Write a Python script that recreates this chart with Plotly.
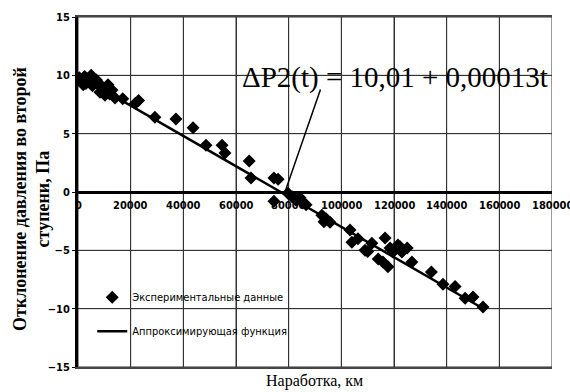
import plotly.graph_objects as go

# Experimental data: operating time (km) and pressure deviation (Pa)
exp_t = [500, 1500, 2000, 2500, 3000, 3500, 4500, 5000, 5500, 6000, 7000, 8000,
         8350, 9100, 10250, 11400, 12000, 12900, 14050, 17000, 21800, 23000,
         29200, 37200, 43700, 48600, 54700, 55800, 65000, 65700, 74400, 76000,
         74400, 79700, 81300, 82800, 84300, 85400, 86600, 92600, 93400, 94200,
         95700, 103300, 104000, 106300, 109000, 110000, 111600, 114000, 115800,
         117700, 116600, 118500, 119600, 121500, 122300, 123000, 125000, 126800,
         134200, 138600, 143200, 147000, 150000, 153800]
exp_v = [9.8, 9.6, 9.2, 9.9, 9.3, 9.7, 9.4, 10.0, 9.1, 9.5, 9.6, 9.3,
         8.55, 8.9, 8.3, 9.2, 8.4, 8.75, 8.05, 8.0, 7.6, 7.85,
         6.4, 6.25, 5.5, 4.0, 4.0, 3.35, 2.65, 1.2, 1.2, 1.1,
         -0.8, -0.1, -0.4, -0.7, -0.5, -0.95, -1.1, -2.0, -2.55, -2.3,
         -2.6, -3.25, -4.3, -4.0, -5.0, -5.1, -4.4, -5.75, -6.0,
         -6.4, -3.95, -4.8, -5.15, -4.55, -4.7, -5.15, -4.8, -6.0,
         -6.85, -7.9, -8.1, -9.1, -9.0, -9.85]

# Approximating function endpoints
fit_t = [0, 154000]
fit_v = [10.01, -10.01]

x_ticks = [0, 20000, 40000, 60000, 80000, 100000, 120000, 140000, 160000, 180000]
x_tick_labels = [str(v) for v in x_ticks]
y_ticks = [-15, -10, -5, 0, 5, 10, 15]

NARROW = "Liberation Sans Narrow, Arial Narrow, DejaVu Sans Condensed, sans-serif"
SERIF = "Liberation Serif"
GRID = dict(color="#333333", width=1)

fig = go.Figure()
fig.add_trace(go.Scatter(
    x=exp_t, y=exp_v, mode="markers", name="Экспериментальные данные",
    marker=dict(symbol="diamond", size=10, color="black"),
    legendgroup="a",
))
fig.add_trace(go.Scatter(
    x=fit_t, y=fit_v, mode="lines", name="Аппроксимирующая функция",
    line=dict(color="black", width=2.5),
    legendgroup="b",
))

# x tick labels sit just below the y = 0 axis line
tick_annots = [
    dict(text=lab, x=t, y=0, xref="x", yref="y", showarrow=False,
         xanchor="center", yanchor="top", yshift=-5,
         font=dict(family=NARROW, size=11, color="black", weight="bold"))
    for t, lab in zip(x_ticks, x_tick_labels)
]

# grid drawn from the tick lists (also forms the plot border)
grid_shapes = (
    [dict(type="line", xref="x", yref="y", x0=t, x1=t, y0=y_ticks[0], y1=y_ticks[-1],
          line=GRID, layer="below") for t in x_ticks]
    + [dict(type="line", xref="x", yref="y", x0=x_ticks[0], x1=x_ticks[-1], y0=v, y1=v,
            line=GRID, layer="below") for v in y_ticks]
)

fig.update_layout(
    width=570, height=392,
    margin=dict(l=78, r=18, t=17, b=25),
    paper_bgcolor="white", plot_bgcolor="white",
    showlegend=True,
    legend=dict(
        x=0.03, y=0.241, xanchor="left", yanchor="top",
        bgcolor="rgba(0,0,0,0)", borderwidth=0,
        font=dict(family=NARROW, size=11, color="black"),
        traceorder="grouped", tracegroupgap=15,
        itemwidth=30,
    ),
    xaxis=dict(
        range=[0, 180000], tickvals=x_ticks, showticklabels=False,
        showline=True, linewidth=1.5, linecolor="#444444", mirror=True,
        showgrid=True, gridcolor="#333333", gridwidth=1,
        ticks="", zeroline=False,
    ),
    yaxis=dict(
        range=[-15, 15], tickvals=y_ticks,
        showline=True, linewidth=3, linecolor="black",
        showgrid=True, gridcolor="#333333", gridwidth=1,
        ticks="outside", ticklen=3, tickcolor="black",
        tickfont=dict(family=NARROW, size=11, color="black", weight="bold"),
        zeroline=True, zerolinecolor="black", zerolinewidth=3,
    ),
    shapes=grid_shapes,
    annotations=tick_annots + [
        dict(text="ΔP2(t) = 10,01 + 0,00013t", x=120500, y=9.8, xref="x", yref="y",
             showarrow=False, xanchor="center", yanchor="middle",
             font=dict(family=SERIF, size=29, color="black")),
        dict(text="", x=78600, y=0, xref="x", yref="y",
             showarrow=True, arrowhead=0, arrowwidth=1.5, arrowcolor="black",
             ax=36, ay=-104),
        dict(text="Отклонение давления во второй<br>ступени, Па",
             xref="paper", yref="paper", x=-0.099, y=0.48, textangle=-90,
             showarrow=False, xanchor="center", yanchor="middle",
             font=dict(family=SERIF, size=18, color="black", weight="bold")),
        dict(text="Наработка, км", xref="paper", yref="paper", x=0.498, y=-0.04,
             showarrow=False, xanchor="center", yanchor="middle",
             font=dict(family=SERIF, size=16, color="black")),
    ],
)

fig.write_html("out.html")
